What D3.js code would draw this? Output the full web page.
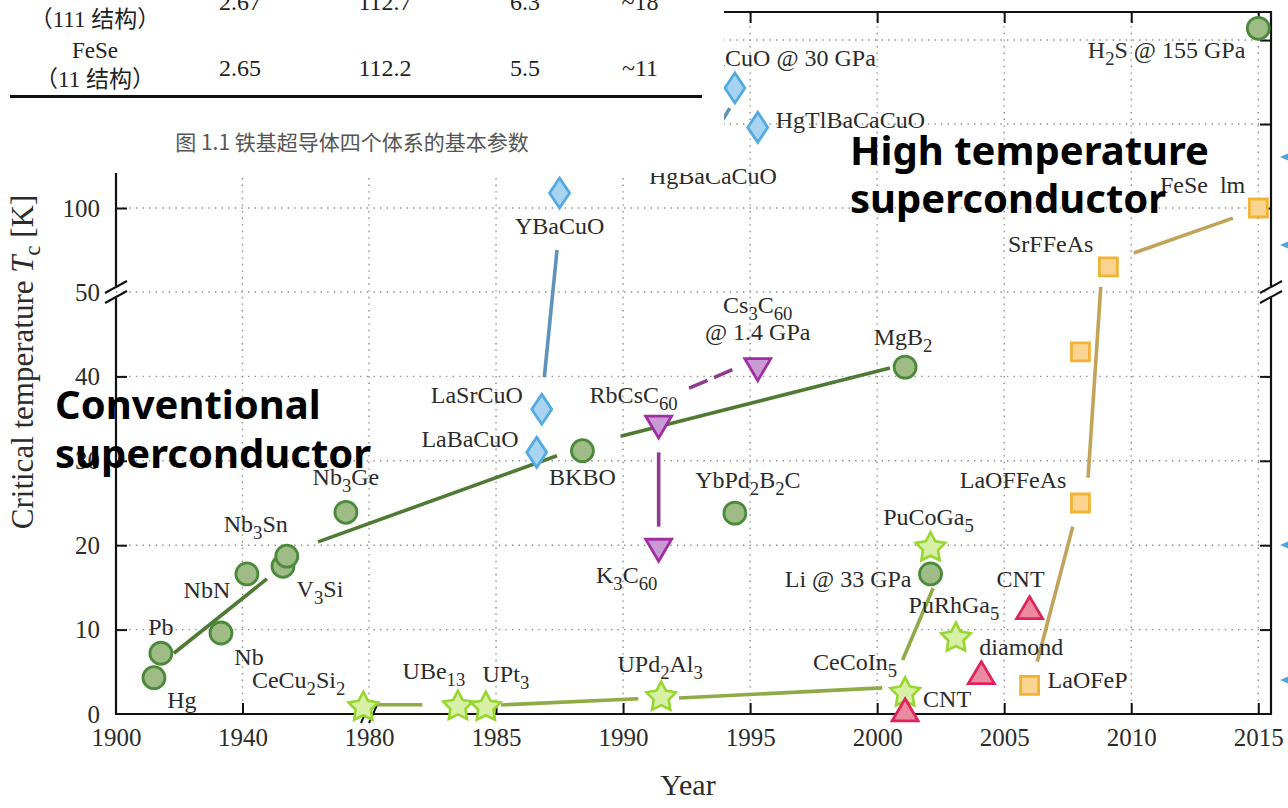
<!DOCTYPE html>
<html><head><meta charset="utf-8">
<script src="https://cdn.jsdelivr.net/npm/d3@7"></script>
<style>body{margin:0;background:#fff;overflow:hidden} svg{display:block}</style>
</head><body>
<svg id="chart" width="1288" height="808"></svg>
<script>
// ---------------- data ----------------
const xTicks = [1900,1940,1980,1985,1990,1995,2000,2005,2010,2015];
const yTicks = [0,10,20,30,40,50,100,150,200];

const conventionalNames = ["Hg","Pb","Nb","NbN","V{3}Si","Nb{3}Sn","Nb{3}Ge","BKBO","YbPd{2}B{2}C","MgB{2}","Li @ 33 GPa","H{2}S @ 155 GPa"];
const conventionalYears = [1912.0,1914.2,1933.2,1941.4,1952.8,1954.0,1972.7,1988.4,1994.4,2001.1,2002.1,2015.0];
const conventionalTc    = [4.3,7.2,9.6,16.6,17.5,18.7,23.9,31.2,23.8,41.1,16.6,207];
const conventionalLines = [[[1918.3,7.2],[1947.7,16.0]],[[1963.9,20.4],[1987.4,30.6]],[[1989.9,32.9],[2000.5,41.0]]];

const cuprateNames = ["LaBaCuO","LaSrCuO","YBaCuO","HgBaCaCuO","HgTlBaCaCuO","HgBaCaCuO @ 30 GPa"];
const cuprateYears = [1986.6,1986.8,1987.5,1993.3,1995.3,1994.4];
const cuprateTc    = [31.0,36.1,108.9,135,148,171.4];
const cuprateLines = [[[1987.4,75],[1986.9,39.9]],[[1993.3,137],[1994.2,159.5]]];

const fullereneNames = [["RbCsC{60}"],["K{3}C{60}"],["Cs{3}C{60}","@ 1.4 GPa"]];
const fullereneYears = [1991.4,1991.4,1995.3];
const fullereneTc    = [34.0,19.4,40.8];
const fullereneLines = [[[1991.4,31.0],[1991.4,22.2]]];
const fullereneDashed = [[[1992.6,38.6],[1994.3,40.8]]];

const heavyNames = ["CeCu{2}Si{2}","UBe{13}","UPt{3}","UPd{2}Al{3}","CeCoIn{5}","PuCoGa{5}","PuRhGa{5}"];
const heavyYears = [1978.2,1983.5,1984.6,1991.5,2001.1,2002.1,2003.1];
const heavyTc    = [0.8,0.9,0.8,2.0,2.5,19.7,9.0];
const heavyLines = [[[1980.3,1.1],[1982.1,1.1]],[[1985.2,1.07],[1990.6,1.8]],[[1992.2,1.9],[2000.2,3.1]],[[2001.0,6.4],[2002.2,14.9]]];

const carbonNames = ["CNT","diamond","CNT"];
const carbonYears = [2001.1,2004.1,2006.0];
const carbonTc    = [0.5,4.9,12.6];

const ironNames = ["LaOFeP","LaOFFeAs","","SrFFeAs","FeSe\u2002lm"];
const ironYears = [2006.0,2008.0,2008.0,2009.1,2015.0];
const ironTc    = [3.4,25.0,42.9,64.9,100];
const ironLines = [[[2006.3,6.2],[2007.7,22.2]],[[2008.3,28.0],[2008.8,53]],[[2010.1,73.2],[2014.0,94]]];

const tableRowLabels = [["（111 结构）"],["FeSe","（11 结构）"]];
const tableRowValues = [["2.67","112.7","6.3","~18"],["2.65","112.2","5.5","~11"]];
const tableCaption = "图 1.1 铁基超导体四个体系的基本参数";
const overlayLeft = ["Conventional","superconductor"];
const overlayRight = ["High temperature","superconductor"];

// ---------------- layout (label offsets: dx, dy, anchor) ----------------
const conventionalLabelPos = [[28,30,"middle"],[0,-18,"middle"],[28,32,"middle"],[-40,24,"middle"],[37,31,"middle"],[-31,-24,"middle"],[0,-27,"middle"],[0,34,"middle"],[13,-25,"middle"],[-2,-22,"middle"],[-19,13,"end"],[-13,30,"end"]];
const cuprateLabelPos = [[-18,-5,"end"],[-19,-6,"end"],[0,41,"middle"],[6,35,"middle"],[18,1,"start"],[141,-22,"end"]];
const fullereneLabelPos = [[-25,-24,"middle"],[-32,33,"middle"],[0,-57,"middle"]];
const heavyLabelPos = [[-18,-19,"end"],[-24,-27,"middle"],[20,-25,"middle"],[-1,-25,"middle"],[-8,-23,"end"],[-2,-23,"middle"],[-2,-25,"middle"]];
const carbonLabelPos = [[18,-3,"start"],[-2,-18,"start"],[-9,-21,"middle"]];
const ironLabelPos = [[18,3,"start"],[-14,-15,"end"],null,[-15,-15,"end"],[-13,-15,"end"]];

// ---------------- scales ----------------
const svg = d3.select("#chart");
const x = d3.scaleLinear().domain([1900,1980,2015.5]).range([116,369,1271]);
const y = d3.scaleLinear().domain([0,50,216.7]).range([714,292,12]);
const [X0,X1] = [x(1900), x(2015.5)];
const [Y0,Y1] = [y(0), y(216.7)];
const serif = "'Liberation Serif','Times New Roman',serif";
const textCol = "#2b2b2b";

svg.append("rect").attr("width",1288).attr("height",808).attr("fill","#fff");

// grid
const grid = svg.append("g").attr("stroke","#8a8a8a").attr("stroke-width",1.4).attr("stroke-dasharray","1.4,5.2");
grid.selectAll("line.v").data(xTicks.filter(d=>d>1900)).join("line")
  .attr("x1",d=>x(d)).attr("x2",d=>x(d)).attr("y1",Y0).attr("y2",Y1);
grid.selectAll("line.h").data(yTicks.filter(d=>d>0)).join("line")
  .attr("y1",d=>y(d)).attr("y2",d=>y(d)).attr("x1",X0).attr("x2",X1);

// axes
function styleAxis(g){
  g.select(".domain").remove();
  g.selectAll(".tick line").attr("stroke","#111").attr("stroke-width",2);
  g.selectAll(".tick text").attr("font-family",serif).attr("font-size",25).attr("fill",textCol);
}
const gb = svg.append("g").attr("transform",`translate(0,${Y0})`)
  .call(d3.axisBottom(x).tickValues(xTicks).tickFormat(d3.format("d")).tickSizeInner(-11).tickSizeOuter(0).tickPadding(14)).call(styleAxis);
gb.selectAll(".tick").filter(d=>d===1980||d===1900).select("line").remove();
const gl = svg.append("g").attr("transform",`translate(${X0},0)`)
  .call(d3.axisLeft(y).tickValues(yTicks).tickSizeInner(-11).tickSizeOuter(0).tickPadding(16)).call(styleAxis);
gl.selectAll(".tick").filter(d=>d===50||d===0).select("line").remove();
const gr = svg.append("g").attr("transform",`translate(${X1},0)`)
  .call(d3.axisRight(y).tickValues(yTicks).tickFormat("").tickSizeInner(-11).tickSizeOuter(0)).call(styleAxis);
gr.selectAll(".tick").filter(d=>d===50||d===0).select("line").remove();
const gt = svg.append("g").attr("transform",`translate(0,${Y1})`)
  .call(d3.axisTop(x).tickValues(xTicks).tickFormat("").tickSizeInner(-11).tickSizeOuter(0)).call(styleAxis);
gt.selectAll(".tick").filter(d=>d===1980||d===1900).select("line").remove();

// frame with breaks
const frame = svg.append("g").attr("stroke","#111").attr("stroke-width",2.2).attr("fill","none");
const yb = y(50), xb = x(1980);
frame.append("line").attr("x1",X0).attr("x2",X0).attr("y1",Y0+1).attr("y2",yb+6);
frame.append("line").attr("x1",X0).attr("x2",X0).attr("y1",yb-6).attr("y2",Y1);
frame.append("line").attr("x1",X1).attr("x2",X1).attr("y1",Y0+1).attr("y2",yb+6);
frame.append("line").attr("x1",X1).attr("x2",X1).attr("y1",yb-6).attr("y2",Y1-1);
frame.append("line").attr("x1",X0).attr("x2",xb-4).attr("y1",Y0).attr("y2",Y0);
frame.append("line").attr("x1",xb+4).attr("x2",X1+1).attr("y1",Y0).attr("y2",Y0);
frame.append("line").attr("x1",X0).attr("x2",X1+1).attr("y1",Y1).attr("y2",Y1);
const brk = svg.append("g").attr("stroke","#111").attr("stroke-width",2);
[X0,X1].forEach(cx=>{
  [-5,5].forEach(o=>brk.append("line").attr("x1",cx-11).attr("y1",yb+o+6).attr("x2",cx+11).attr("y2",yb+o-6));
});
[-4,4].forEach(o=>brk.append("line").attr("x1",xb+o-4).attr("y1",Y0+9).attr("x2",xb+o+4).attr("y2",Y0-9));

// ---------------- helpers ----------------
function pts(years,tc){return years.map((d,i)=>({year:d,tc:tc[i],i}));}
function drawLines(data,color,width,dash){
  svg.append("g").selectAll("line").data(data).join("line")
    .attr("x1",d=>x(d[0][0])).attr("y1",d=>y(d[0][1]))
    .attr("x2",d=>x(d[1][0])).attr("y2",d=>y(d[1][1]))
    .attr("stroke",color).attr("stroke-width",width).attr("stroke-linecap","butt")
    .attr("stroke-dasharray",dash||null);
}
function drawMarkers(data,path,fill,stroke,sw){
  svg.append("g").selectAll("path").data(data).join("path")
    .attr("transform",d=>`translate(${x(d.year)},${y(d.tc)})`)
    .attr("d",path).attr("fill",fill).attr("stroke",stroke).attr("stroke-width",sw).attr("stroke-linejoin","miter");
}
function richText(sel,str){
  const parts = str.split(/(\{[^}]*\})/).filter(s=>s.length);
  let down=false;
  parts.forEach(p=>{
    if(p[0]==="{"){ sel.append("tspan").attr("font-size","78%").attr("dy",down?0:7).text(p.slice(1,-1)); down=true; }
    else { sel.append("tspan").attr("dy",down?-7:0).text(p); down=false; }
  });
}
function drawLabels(data,names,pos){
  const g = svg.append("g").attr("font-family",serif).attr("font-size",24).attr("fill",textCol);
  data.forEach((d,i)=>{
    const p = pos[i]; if(!p) return;
    const lines = Array.isArray(names[i])?names[i]:[names[i]];
    lines.forEach((ln,k)=>{
      const t = g.append("text").attr("x",x(d.year)+p[0]).attr("y",y(d.tc)+p[1]+k*27).attr("text-anchor",p[2]);
      richText(t,ln);
    });
  });
}
const circlePath = d3.symbol().type(d3.symbolCircle).size(Math.PI*11*11)();
const diamondPath = "M0,-15L10,0L0,15L-10,0Z";
const triUp = "M0,-11L13,11L-13,11Z";
const triDown = "M0,11L13,-11L-13,-11Z";
const squarePath = "M-9,-9H9V9H-9Z";
const starPath = (()=>{let s="";for(let k=0;k<10;k++){const r=k%2?8:15.5,a=-Math.PI/2+k*Math.PI/5;s+=(k?"L":"M")+(r*Math.cos(a)).toFixed(2)+","+(r*Math.sin(a)).toFixed(2);}return s+"Z";})();

// ---------------- series ----------------
const conv = pts(conventionalYears,conventionalTc);
const cup = pts(cuprateYears,cuprateTc);
const ful = pts(fullereneYears,fullereneTc);
const hev = pts(heavyYears,heavyTc);
const car = pts(carbonYears,carbonTc);
const iro = pts(ironYears,ironTc);

drawLines(conventionalLines,"#4f7a33",3.6);
drawLines(cuprateLines,"#5f93bb",3.6);
drawLines(fullereneLines,"#8d3a8f",3.6);
drawLines(fullereneDashed,"#8d3a8f",3.6,"20,7");
drawLines(heavyLines,"#8fab45",3.6);
drawLines(ironLines,"#c2a35a",3.6);

drawMarkers(hev,starPath,"#d8f0a6","#97d52f",2.6);
drawMarkers(car,triUp,"#ec8aa0","#e0225c",2.8);
drawMarkers(conv,circlePath,"#9fbb86","#4b8a3a",2.8);
drawMarkers(cup,diamondPath,"#a9d4f1","#52abe3",2.8);
drawMarkers(ful,triDown,"#c99bd5","#a02ea2",2.8);
drawMarkers(iro,squarePath,"#fbd492","#f1b334",2.8);

drawLabels(conv,conventionalNames,conventionalLabelPos);
drawLabels(cup,cuprateNames,cuprateLabelPos);
drawLabels(ful,fullereneNames,fullereneLabelPos);
drawLabels(hev,heavyNames,heavyLabelPos);
drawLabels(car,carbonNames,carbonLabelPos);
drawLabels(iro,ironNames,ironLabelPos);

// axis titles
const yl = svg.append("text").attr("transform","translate(33,362) rotate(-90)").attr("text-anchor","middle")
  .attr("font-family",serif).attr("font-size",31).attr("fill",textCol);
yl.append("tspan").text("Critical temperature ");
yl.append("tspan").attr("font-style","italic").text("T");
yl.append("tspan").attr("font-size","72%").attr("dy",7).text("c");
yl.append("tspan").attr("dy",-7).text(" [K]");
svg.append("text").attr("x",688).attr("y",795).attr("text-anchor","middle")
  .attr("font-family",serif).attr("font-size",30).attr("fill",textCol).text("Year");

// cut-off markers at right edge
svg.append("g").selectAll("path").data([157,245,545,680]).join("path")
  .attr("d",d=>`M1280,${d}L1296,${d-7}L1296,${d+7}Z`).attr("fill","#4ea6e0");

// ---------------- pasted table (covers top-left) ----------------
const tb = svg.append("g");
tb.append("rect").attr("x",0).attr("y",0).attr("width",724).attr("height",173).attr("fill","#fff");
const numX = [240,385,525,640];
const cjk = "'Liberation Serif','Noto Sans CJK SC',serif";
const rowLabelY = [[27],[58,87]];
const rowValY = [10,76];
tableRowLabels.forEach((lab,r)=>{
  lab.forEach((t,k)=>tb.append("text").attr("x",95).attr("y",rowLabelY[r][k]).attr("text-anchor","middle")
    .attr("font-family",cjk).attr("font-size",23).attr("fill","#222").text(t));
  tableRowValues[r].forEach((v,c)=>tb.append("text").attr("x",numX[c]).attr("y",rowValY[r]).attr("text-anchor","middle")
    .attr("font-family",serif).attr("font-size",24).attr("fill","#222").text(v));
});
tb.append("rect").attr("x",10).attr("y",95).attr("width",692).attr("height",3).attr("fill","#111");
tb.append("text").attr("x",352).attr("y",150).attr("text-anchor","middle").attr("font-family","'Noto Sans CJK SC',sans-serif")
  .attr("font-size",21).attr("fill","#555").text(tableCaption);

// ---------------- overlay captions ----------------
const ov = svg.append("g").attr("font-family","'Noto Sans','Noto Sans CJK JP',sans-serif").attr("font-weight",700).attr("font-size",40).attr("fill","#000");
overlayLeft.forEach((t,k)=>ov.append("text").attr("x",55).attr("y",419+k*49).text(t));
overlayRight.forEach((t,k)=>ov.append("text").attr("x",850).attr("y",165+k*48).text(t));
</script>
</body></html>
